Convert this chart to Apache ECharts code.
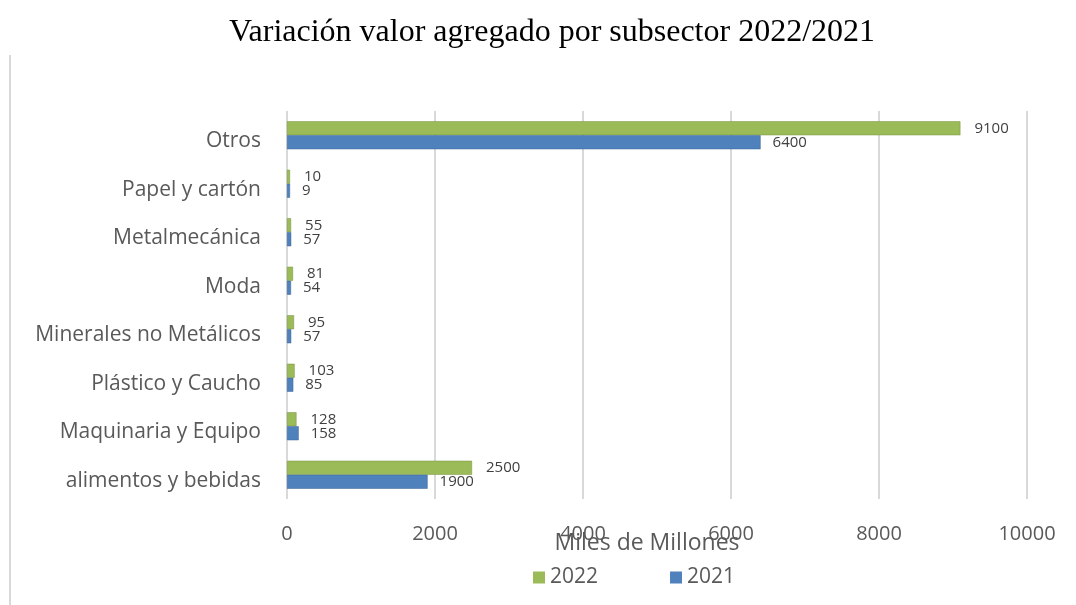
<!DOCTYPE html>
<html>
<head>
<meta charset="utf-8">
<script src="https://cdn.jsdelivr.net/npm/echarts@6/dist/echarts.min.js"></script>
<style>
  html, body { margin: 0; padding: 0; background: #fff; }
  #chart { width: 1076px; height: 605px; }
</style>
</head>
<body>
<div id="chart"></div>
<script>
// categorias de abajo hacia arriba
var subsectores = ['alimentos y bebidas', 'Maquinaria y Equipo', 'Plástico y Caucho',
  'Minerales no Metálicos', 'Moda', 'Metalmecánica', 'Papel y cartón', 'Otros'];
var valores2022 = [2500, 128, 103, 95, 81, 55, 10, 9100];
var valores2021 = [1900, 158, 85, 57, 54, 57, 9, 6400];
var ticksX = [0, 2000, 4000, 6000, 8000, 10000];

var verde = '#9BBB59', azul = '#4F81BD';
var gris = '#595959';

var chart = echarts.init(document.getElementById('chart'));

chart.setOption({
  animation: false,
  title: {
    text: 'Variación valor agregado por subsector 2022/2021',
    left: 224,
    top: 12,
    textStyle: { fontFamily: 'Liberation Serif', fontSize: 32, fontWeight: 'normal', color: '#000' }
  },
  legend: {
    data: ['2022', '2021'],
    top: 562,
    left: 528,
    itemWidth: 12,
    itemHeight: 12,
    itemGap: 72,
    icon: 'rect',
    itemStyle: { borderWidth: 0 },
    textStyle: { fontFamily: 'Open Sans', fontSize: 21, color: gris }
  },
  graphic: [{
    type: 'line',
    shape: { x1: 10, y1: 55, x2: 10, y2: 605 },
    style: { stroke: '#d9d9d9', lineWidth: 2 }
  }],
  grid: { left: 287, right: 49, top: 111, bottom: 106 },
  xAxis: {
    type: 'value',
    min: ticksX[0],
    max: ticksX[ticksX.length - 1],
    interval: 2000,
    name: 'Miles de Millones',
    nameLocation: 'middle',
    nameGap: 33,
    nameMoveOverlap: false,
    nameTextStyle: { fontFamily: 'Open Sans', fontSize: 23, color: gris, padding: [0, 20, 0, 0] },
    axisLine: { show: false },
    axisTick: { show: false },
    axisLabel: {
      fontFamily: 'Open Sans', fontSize: 20, color: gris, margin: 25,
      formatter: function (v) { return String(v); }
    },
    splitLine: { lineStyle: { color: '#d9d9d9', width: 2 } }
  },
  yAxis: {
    type: 'category',
    data: subsectores,
    axisLine: { show: false },
    axisTick: { show: false },
    axisLabel: {
      margin: 26,
      formatter: function (v) { return '{c|' + v + '}'; },
      rich: {
        c: { fontFamily: 'Open Sans', fontSize: 21, color: gris, padding: [12, 0, 0, 0] }
      }
    }
  },
  series: [
    {
      name: '2022',
      type: 'bar',
      data: valores2022,
      barWidth: 14,
      barGap: '0%',
      barMinHeight: 3,
      itemStyle: { color: verde, borderColor: '#76923C', borderWidth: 0.5 },
      label: {
        show: true, position: 'right', distance: 14,
        fontFamily: 'Open Sans', fontSize: 15, color: '#404040'
      }
    },
    {
      name: '2021',
      type: 'bar',
      data: valores2021,
      barWidth: 14,
      barGap: '0%',
      barMinHeight: 3,
      itemStyle: { color: azul, borderColor: '#3A6494', borderWidth: 0.5 },
      label: {
        show: true, position: 'right', distance: 12,
        fontFamily: 'Open Sans', fontSize: 15, color: '#404040'
      }
    }
  ]
});
</script>
</body>
</html>
